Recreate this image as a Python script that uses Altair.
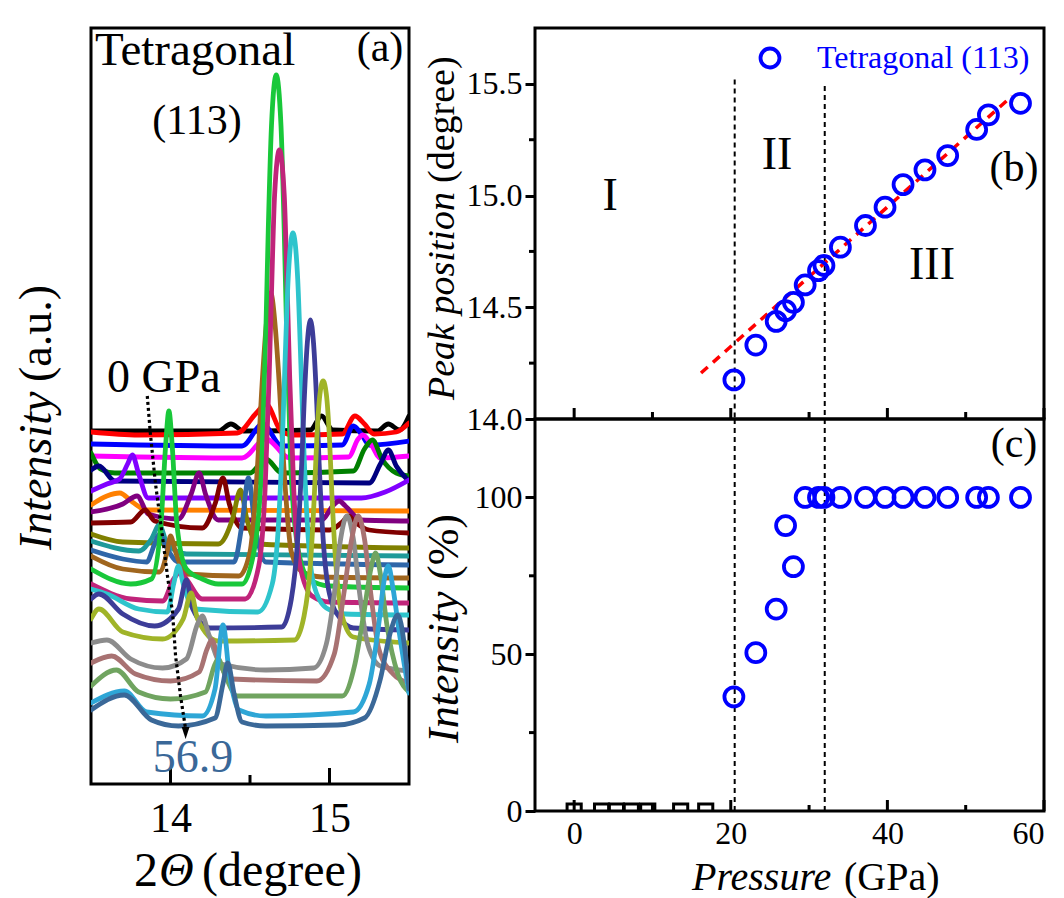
import altair as alt
import pandas as pd

FONT = "Liberation Serif"

# ---------------- panel (a): stacked XRD patterns (2theta, a.u.) ----------------
curve_ids = [f"c{i:02d}" for i in range(1, 25)]
curve_colors = ["#000000", "#ff0000", "#0000ff", "#ff00ff", "#008000", "#000080",
                "#8000ff", "#ff8000", "#800080", "#800000", "#808000", "#1f9a9a",
                "#2f66a8", "#a0661e", "#19c83a", "#c0247a", "#2ec4cc", "#3d3d98",
                "#a0b428", "#8c8c8c", "#a87272", "#70a460", "#2ea6d6", "#3a6898"]

curves = [
    [(13.5,353),(14.3,353),(14.38,360),(14.46,353),(14.88,354),(14.95,368),(15.02,354),(15.3,353),(15.37,360),(15.44,354),(15.5,368)],
    [(13.5,352),(13.8,349),(14.42,351),(14.54,371),(14.6,380),(14.7,352),(14.78,349),(15.08,350),(15.16,368),(15.22,360),(15.28,350),(15.42,352),(15.5,361)],
    [(13.5,340),(14.45,338),(14.58,360),(14.7,338),(15.08,339),(15.15,358),(15.2,350),(15.25,339),(15.5,343)],
    [(13.5,328),(14.45,326),(14.6,345),(14.75,326),(15.12,327),(15.18,345),(15.21,349),(15.26,340),(15.32,326),(15.5,328)],
    [(13.5,331),(13.56,315),(13.65,311),(14.5,311),(14.6,325),(14.7,311),(15.15,313),(15.22,335),(15.27,344),(15.33,325),(15.42,311),(15.5,308)],
    [(13.5,314),(13.55,318),(13.65,303),(15.25,301),(15.32,320),(15.37,334),(15.42,318),(15.5,303)],
    [(13.5,293),(13.6,300),(13.68,305),(13.73,320),(13.76,329),(13.8,310),(13.86,286),(15.2,286),(15.35,292),(15.5,304)],
    [(13.5,279),(13.6,288),(13.68,291),(13.76,282),(13.85,274),(15.5,273)],
    [(13.5,272),(13.7,280),(13.79,288),(13.86,270),(14.05,265),(14.13,290),(14.18,311),(14.22,290),(14.3,264),(14.95,264),(15.02,278),(15.06,283),(15.1,278),(15.2,264),(15.5,263)],
    [(13.5,261),(13.75,262),(13.84,274),(13.9,263),(14.2,256),(14.28,280),(14.33,306),(14.37,280),(14.45,256),(15.0,254),(15.08,262),(15.12,268),(15.16,262),(15.25,254),(15.5,251)],
    [(13.5,250),(13.7,242),(14.3,240),(14.39,265),(14.44,294),(14.48,265),(14.55,240),(15.5,236)],
    [(13.5,243),(13.8,233),(13.88,245),(13.93,259),(13.98,240),(14.1,230),(15.5,228)],
    [(13.5,234),(13.7,225),(13.85,222),(13.9,240),(13.93,250),(13.97,238),(14.05,222),(14.4,222),(14.45,260),(14.49,306),(14.53,260),(14.6,222),(15.5,219)],
    [(13.5,228),(13.7,215),(13.93,212),(13.98,233),(14.0,248),(14.03,233),(14.1,210),(14.43,208),(14.5,232),(14.54,300),(14.58,410),(14.6,455),(14.63,491),(14.66,455),(14.68,410),(14.72,300),(14.76,232),(14.83,212),(14.95,207),(15.5,206)],
    [(13.5,215),(13.75,200),(13.88,205),(13.94,260),(13.97,340),(13.99,373),(14.01,340),(14.04,260),(14.1,215),(14.2,205),(14.3,200),(14.45,200),(14.53,237),(14.575,325),(14.6,455),(14.615,555),(14.635,658),(14.665,709),(14.695,658),(14.715,555),(14.73,455),(14.755,325),(14.8,237),(14.87,205),(15.0,198),(15.5,196)],
    [(13.5,200),(13.75,185),(13.95,183),(14.02,205),(14.06,212),(14.1,205),(14.2,185),(14.47,185),(14.555,218),(14.595,295),(14.62,405),(14.635,490),(14.655,590),(14.685,634),(14.715,590),(14.735,490),(14.75,405),(14.775,295),(14.815,218),(14.89,188),(15.0,182),(15.5,181)],
    [(13.5,195),(13.6,190),(13.8,175),(13.98,172),(14.02,200),(14.05,218),(14.08,200),(14.15,175),(14.55,172),(14.64,200),(14.68,262),(14.705,350),(14.72,420),(14.74,505),(14.77,551),(14.8,505),(14.82,420),(14.835,350),(14.86,262),(14.9,200),(14.98,176),(15.1,170),(15.5,169)],
    [(13.5,185),(13.55,190),(13.7,170),(13.9,158),(14.05,175),(14.1,204),(14.14,175),(14.25,156),(14.7,157),(14.76,185),(14.8,245),(14.825,320),(14.84,380),(14.86,440),(14.88,464),(14.9,440),(14.92,380),(14.935,320),(14.96,245),(15.0,190),(15.07,165),(15.15,156),(15.5,154)],
    [(13.5,165),(13.55,175),(13.7,152),(13.95,145),(14.08,165),(14.13,191),(14.17,165),(14.3,143),(14.78,144),(14.84,168),(14.88,220),(14.905,290),(14.92,345),(14.94,390),(14.96,403),(14.98,390),(15.0,345),(15.015,290),(15.04,220),(15.08,168),(15.15,147),(15.5,141)],
    [(13.5,141),(13.6,144),(13.75,125),(13.95,116),(14.1,125),(14.17,160),(14.2,168),(14.24,150),(14.32,120),(14.6,114),(14.9,116),(14.98,140),(15.03,190),(15.07,245),(15.11,268),(15.15,245),(15.19,190),(15.24,140),(15.32,118),(15.5,113)],
    [(13.5,121),(13.63,128),(13.78,110),(14.0,103),(14.18,112),(14.23,135),(14.26,144),(14.3,125),(14.38,105),(14.92,103),(15.03,130),(15.09,190),(15.14,245),(15.18,268),(15.22,245),(15.26,190),(15.31,135),(15.4,110),(15.5,101)],
    [(13.5,98),(13.66,114),(13.8,92),(14.0,85),(14.22,92),(14.28,120),(14.3,125),(14.34,110),(14.42,88),(15.08,88),(15.16,120),(15.22,175),(15.26,215),(15.29,231),(15.32,210),(15.36,160),(15.43,110),(15.5,92)],
    [(13.5,81),(13.71,93),(13.85,72),(14.2,68),(14.28,95),(14.33,159),(14.37,110),(14.43,74),(14.6,68),(15.15,72),(15.25,100),(15.31,160),(15.345,205),(15.37,218),(15.4,195),(15.44,150),(15.5,91)],
    [(13.5,74),(13.71,89),(13.88,64),(14.05,58),(14.28,66),(14.33,100),(14.36,121),(14.4,90),(14.45,62),(14.6,58),(15.05,59),(15.22,66),(15.32,105),(15.38,150),(15.43,169),(15.47,140),(15.5,95)],
]

arrow_x = [13.854, 13.873, 13.905, 13.949, 13.981, 14.013, 14.032, 14.063, 14.095]
arrow_v = [388, 351, 301, 248, 208, 171, 128, 88, 55]

a_ticks_major = [14, 15]
a_ticks_minor = [14.5]

# ---------------- panels (b) and (c) ----------------
pressure = [20.4, 23.2, 25.8, 27.0, 28.0, 29.5, 31.2, 31.9, 34.0, 37.2, 39.7, 42.0, 44.8, 47.7, 51.4, 52.9, 57.0]
peak_pos = [14.175, 14.331, 14.437, 14.485, 14.522, 14.600, 14.664, 14.687, 14.769, 14.866,
            14.948, 15.049, 15.115, 15.179, 15.296, 15.361, 15.413]
intensity = [36.4, 50.5, 64.4, 91.0, 77.9, 100, 100, 100, 100, 100, 100, 100, 100, 100, 100, 100, 100]
p_low = [0, 3.5, 5.4, 7.3, 9.4, 13.6, 16.8]
int_low = [0, 0, 0, 0, 0, 0, 0]
fit_p = [16.2, 55.9]
fit_v = [14.206, 15.445]
bound_p = [20.5, 32.0]
bound_top_b = [15.52, 15.49]
region_lbl = ["I", "II", "III"]
region_p = [4.6, 25.9, 45.7]
region_v = [15.0, 15.18, 14.69]

W_A, H_A = 318, 756
W_R, H_B, H_C = 509, 391, 392


def txt(text, x, y, size, align="left", italic=False, color="black", angle=0):
    m = alt.Chart(pd.DataFrame({"t": [text]})).mark_text(
        text=text, font=FONT, fontSize=size, align=align, baseline="middle",
        fontStyle="italic" if italic else "normal", color=color, angle=angle)
    return m.encode(x=alt.value(x), y=alt.value(y))


# ---------- panel (a) chart ----------
rows = []
for k, (cid, pts) in enumerate(zip(curve_ids, curves)):
    for j, (x, v) in enumerate(pts):
        rows.append({"curve": cid, "k": k, "j": j, "x": x, "v": v})
df_a = pd.DataFrame(rows)

sx_a = alt.Scale(domain=[13.5, 15.5], nice=False, zero=False)
sy_a = alt.Scale(domain=[0, H_A], nice=False, zero=False)
ax_a_x = alt.Axis(values=a_ticks_major, tickSize=0, domain=False, grid=False, labelFontSize=42,
                  labelPadding=14, title=None, labelFont=FONT, labelColor="black")
XA = alt.X("x:Q", scale=sx_a, axis=ax_a_x)
YA = alt.Y("v:Q", scale=sy_a, axis=None)

lines = alt.Chart(df_a).mark_line(strokeWidth=4.8, clip=True, interpolate="monotone",
                                   strokeCap="round", strokeJoin="round").encode(
    x=XA, y=YA,
    color=alt.Color("curve:N", scale=alt.Scale(domain=curve_ids, range=curve_colors), legend=None),
    order="j:Q",
)

df_arrow = pd.DataFrame({"x": arrow_x, "v": arrow_v})
arrow_line = alt.Chart(df_arrow).mark_line(color="black", strokeWidth=3.2, strokeDash=[3, 3]).encode(x=XA, y=YA)
arrow_head = alt.Chart(pd.DataFrame({"x": [arrow_x[-1]], "v": [arrow_v[-1] - 4]})).mark_point(
    shape="M -0.32 -0.5 L 0.32 -0.5 L 0 0.5 Z", size=600, filled=True, color="black", opacity=1).encode(x=XA, y=YA)

tk_a1 = alt.Chart(pd.DataFrame({"x": a_ticks_major})).mark_rule(color="black", strokeWidth=3).encode(
    x=XA, y=alt.value(H_A), y2=alt.value(H_A - 16))
tk_a2 = alt.Chart(pd.DataFrame({"x": a_ticks_minor})).mark_rule(color="black", strokeWidth=3).encode(
    x=XA, y=alt.value(H_A), y2=alt.value(H_A - 9))

a_texts = [
    txt("Tetragonal", 4, 23, 47),
    txt("(113)", 106, 93, 42, align="center"),
    txt("(a)", 289, 20, 42, align="center"),
    txt("0 GPa", 16, 350, 46),
    txt("56.9", 102, 730, 46, align="center", color="#3a6898"),
    txt("Intensity", -54, 522, 46, italic=True, angle=270),
    txt("(a.u.)", -54, 354, 46, angle=270),
    txt("2", 43, 844, 48),
    txt("Θ", 68, 844, 48, italic=True),
    txt("(degree)", 111, 844, 48),
]

panel_a = alt.layer(lines, arrow_line, arrow_head, tk_a1, tk_a2, *a_texts).properties(
    width=W_A, height=H_A)

# ---------- panel (b) chart ----------
sx_r = alt.Scale(domain=[-5, 60], nice=False, zero=False)
sy_b = alt.Scale(domain=[14.0, 15.75], nice=False, zero=False)
sy_c = alt.Scale(domain=[0, 125], nice=False, zero=False)

ax_b_y = alt.Axis(values=[14.0, 14.5, 15.0, 15.5], format=".1f", tickSize=10, tickWidth=3,
                  tickColor="black", labelFontSize=32, labelPadding=3, domain=False, grid=False,
                  title=None, labelFont=FONT, labelColor="black")
XB = alt.X("p:Q", scale=sx_r, axis=None)
YB = alt.Y("v:Q", scale=sy_b, axis=ax_b_y)

df_b = pd.DataFrame({"p": pressure, "v": peak_pos})
pts_b = alt.Chart(df_b).mark_point(shape="circle", filled=False, color="#0000ff", size=360,
                                   strokeWidth=3.8, opacity=1).encode(x=XB, y=YB)

df_fit = pd.DataFrame({"p": fit_p, "v": fit_v})
fit_b = alt.Chart(df_fit).mark_line(color="#ff0000", strokeWidth=3.5, strokeDash=[9, 7]).encode(x=XB, y=YB)

df_bd_b = pd.DataFrame({"p": bound_p, "v": bound_top_b, "bot": [14.0, 14.0]})
bd_b = alt.Chart(df_bd_b).mark_rule(color="black", strokeWidth=2, strokeDash=[5, 4]).encode(
    x=XB, y=YB, y2="bot:Q")

minor_b = alt.Chart(pd.DataFrame({"v": [14.25, 14.75, 15.25]})).mark_rule(color="black", strokeWidth=3).encode(
    y=YB, x=alt.value(-6), x2=alt.value(0))

xt_major = [0, 20, 40, 60]
xt_minor = [10, 30, 50]


def xticks(values, xenc, height, length):
    return alt.Chart(pd.DataFrame({"p": values})).mark_rule(color="black", strokeWidth=3).encode(
        x=xenc, y=alt.value(height), y2=alt.value(height - length))


reg_b = alt.Chart(pd.DataFrame({"p": region_p, "v": region_v, "t": region_lbl})).mark_text(
    font=FONT, fontSize=46, align="center", baseline="middle", color="black").encode(
    x=XB, y=YB, text="t:N")

leg_pt = alt.Chart(pd.DataFrame({"a": [0]})).mark_point(shape="circle", filled=False, color="#0000ff",
                                                        size=360, strokeWidth=3.8, opacity=1).encode(
    x=alt.value(235), y=alt.value(30))

b_texts = [
    txt("Tetragonal (113)", 282, 30, 32, color="#0000ff"),
    txt("(b)", 479, 140, 42, align="center"),
    txt("Peak position", -92, 372, 38, italic=True, angle=270),
    txt("(degree)", -92, 155, 38, angle=270),
]

panel_b = alt.layer(bd_b, fit_b, pts_b, minor_b, xticks(xt_major, XB, H_B, 11), xticks(xt_minor, XB, H_B, 7),
                    reg_b, leg_pt, *b_texts).properties(width=W_R, height=H_B)

# ---------- panel (c) chart ----------
ax_c_x = alt.Axis(values=xt_major, tickSize=0, domain=False, grid=False, labelFontSize=32,
                  labelPadding=7, title=None, labelFont=FONT, labelColor="black")
ax_c_y = alt.Axis(values=[0, 50, 100], tickSize=10, tickWidth=3, tickColor="black", labelFontSize=32,
                  labelPadding=3, domain=False, grid=False, title=None, labelFont=FONT, labelColor="black")
XC = alt.X("p:Q", scale=sx_r, axis=ax_c_x)
YC = alt.Y("v:Q", scale=sy_c, axis=ax_c_y)

df_c = pd.DataFrame({"p": pressure, "v": intensity})
pts_c = alt.Chart(df_c).mark_point(shape="circle", filled=False, color="#0000ff", size=360,
                                   strokeWidth=3.8, opacity=1).encode(x=XC, y=YC)

df_sq = pd.DataFrame({"p": p_low, "v": int_low})
sq_c = alt.Chart(df_sq).mark_point(shape="square", filled=False, color="black", size=200,
                                   strokeWidth=3, opacity=1, clip=True).encode(x=XC, y=YC)

df_bd_c = pd.DataFrame({"p": bound_p, "v": [125, 125], "bot": [0, 0]})
bd_c = alt.Chart(df_bd_c).mark_rule(color="black", strokeWidth=2, strokeDash=[5, 4]).encode(
    x=XC, y=YC, y2="bot:Q")

minor_c = alt.Chart(pd.DataFrame({"v": [25, 75]})).mark_rule(color="black", strokeWidth=3).encode(
    y=YC, x=alt.value(-6), x2=alt.value(0))

c_texts = [
    txt("(c)", 479, 25, 42, align="center"),
    txt("Intensity", -90, 324, 44, italic=True, angle=270),
    txt("(%)", -90, 161, 44, angle=270),
    txt("Pressure", 157, 459, 40, italic=True),
    txt("(GPa)", 309, 459, 40),
]

panel_c = alt.layer(bd_c, pts_c, sq_c, minor_c, xticks(xt_major, XC, H_C, 11), xticks(xt_minor, XC, H_C, 6),
                    *c_texts).properties(width=W_R, height=H_C)

right = alt.vconcat(panel_b, panel_c, spacing=0, bounds="flush")
chart = alt.hconcat(panel_a, right, spacing=126, bounds="flush").properties(
    padding={"left": 12, "top": 25, "right": 5, "bottom": 5},
    background="white",
).configure_view(stroke="black", strokeWidth=3).configure_axis(labelFont=FONT)

chart.save("out.html", embed_options={"renderer": "svg", "actions": False})
